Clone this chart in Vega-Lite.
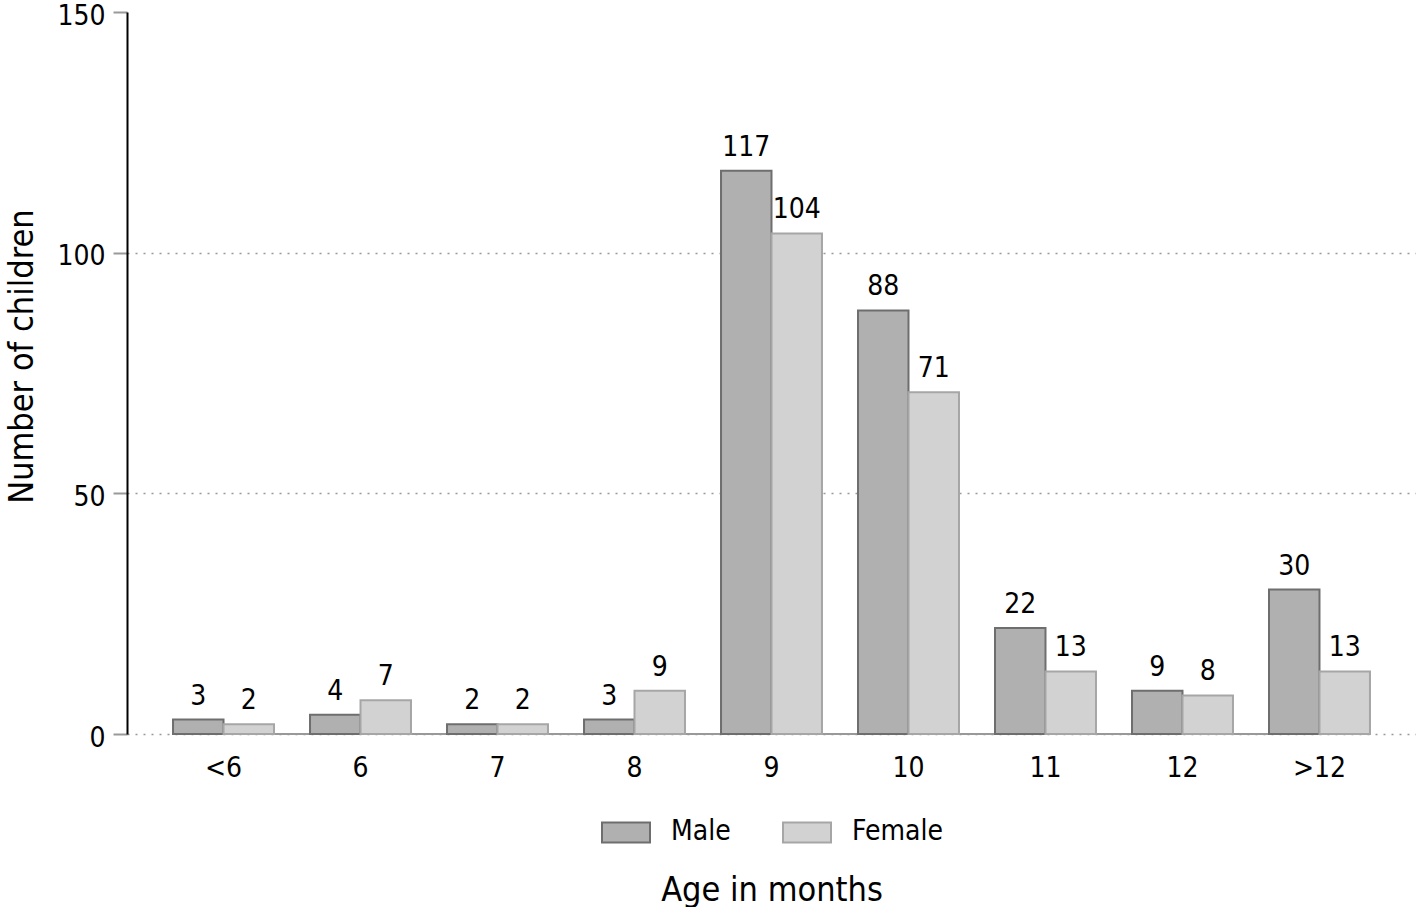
{
  "$schema": "https://vega.github.io/schema/vega-lite/v6.json",
  "width": 1289,
  "height": 722,
  "padding": {"left": 5, "top": 2, "right": 0, "bottom": 0},
  "autosize": {"type": "pad"},
  "background": "white",
  "data": {
    "values": [
      {"age": "<6", "sex": "Male", "count": 3},
      {"age": "<6", "sex": "Female", "count": 2},
      {"age": "6", "sex": "Male", "count": 4},
      {"age": "6", "sex": "Female", "count": 7},
      {"age": "7", "sex": "Male", "count": 2},
      {"age": "7", "sex": "Female", "count": 2},
      {"age": "8", "sex": "Male", "count": 3},
      {"age": "8", "sex": "Female", "count": 9},
      {"age": "9", "sex": "Male", "count": 117},
      {"age": "9", "sex": "Female", "count": 104},
      {"age": "10", "sex": "Male", "count": 88},
      {"age": "10", "sex": "Female", "count": 71},
      {"age": "11", "sex": "Male", "count": 22},
      {"age": "11", "sex": "Female", "count": 13},
      {"age": "12", "sex": "Male", "count": 9},
      {"age": "12", "sex": "Female", "count": 8},
      {"age": ">12", "sex": "Male", "count": 30},
      {"age": ">12", "sex": "Female", "count": 13}
    ]
  },
  "encoding": {
    "x": {
      "field": "age",
      "type": "nominal",
      "sort": ["<6", "6", "7", "8", "9", "10", "11", "12", ">12"],
      "scale": {"paddingInner": 0.263, "paddingOuter": 0.336},
      "title": "Age in months",
      "axis": {
        "domain": false,
        "ticks": false,
        "grid": false,
        "labelAngle": 0,
        "labelFontSize": 28,
        "labelPadding": 20,
        "labelColor": "#000",
        "titleFontSize": 34,
        "titleFontWeight": "normal",
        "titleColor": "#000",
        "titlePadding": 91
      }
    }
  },
  "layer": [
    {
      "mark": {"type": "rule", "color": "#999", "strokeWidth": 2},
      "encoding": {
        "x": {"datum": "<6", "bandPosition": 0},
        "x2": {"datum": ">12", "bandPosition": 1},
        "y": {"datum": 0}
      }
    },
    {
      "mark": {"type": "bar", "strokeWidth": 2},
      "encoding": {
        "xOffset": {"field": "sex", "type": "nominal", "sort": ["Male", "Female"], "scale": {"paddingInner": 0, "paddingOuter": 0}},
        "y": {
          "field": "count",
          "type": "quantitative",
          "scale": {"domain": [0, 150], "nice": false},
          "title": "Number of children",
          "axis": {
            "values": [0, 50, 100, 150],
            "domainColor": "#000",
            "domainWidth": 2,
            "tickColor": "#999",
            "tickWidth": 2,
            "tickSize": 14,
            "labelFontSize": 28,
            "labelPadding": 8,
            "labelOffset": 4,
            "labelColor": "#000",
            "grid": true,
            "gridDash": [2, 6],
            "gridColor": "#999",
            "gridWidth": 1.5,
            "gridOpacity": {"condition": {"test": "datum.value == 150", "value": 0}, "value": 1},
            "titleFontSize": 34,
            "titleFontWeight": "normal",
            "titleColor": "#000",
            "titlePadding": 17,
            "titleY": 344
          }
        },
        "fill": {
          "field": "sex",
          "type": "nominal",
          "sort": ["Male", "Female"],
          "scale": {"domain": ["Male", "Female"], "range": ["#b0b0b0", "#d2d2d2"]},
          "legend": {
            "orient": "none",
            "legendX": 474,
            "legendY": 795,
            "direction": "horizontal",
            "title": null,
            "symbolType": "M-1,-0.42H1V0.42H-1Z",
            "symbolSize": 2304,
            "symbolStrokeWidth": 2,
            "labelFontSize": 28,
            "labelColor": "#000",
            "labelOffset": 20,
            "columnPadding": 48,
            "symbolOpacity": 1
          }
        },
        "stroke": {
          "field": "sex",
          "type": "nominal",
          "sort": ["Male", "Female"],
          "scale": {"domain": ["Male", "Female"], "range": ["#6e6e6e", "#a6a6a6"]}
        }
      }
    },
    {
      "mark": {"type": "text", "fontSize": 28, "baseline": "alphabetic", "dy": -15, "color": "#000"},
      "encoding": {
        "xOffset": {"field": "sex", "type": "nominal", "sort": ["Male", "Female"], "scale": {"paddingInner": 0, "paddingOuter": 0}},
        "y": {"field": "count", "type": "quantitative"},
        "text": {"field": "count", "type": "quantitative"}
      }
    }
  ],
  "config": {
    "font": "DejaVu Sans Condensed",
    "view": {"stroke": null}
  }
}
